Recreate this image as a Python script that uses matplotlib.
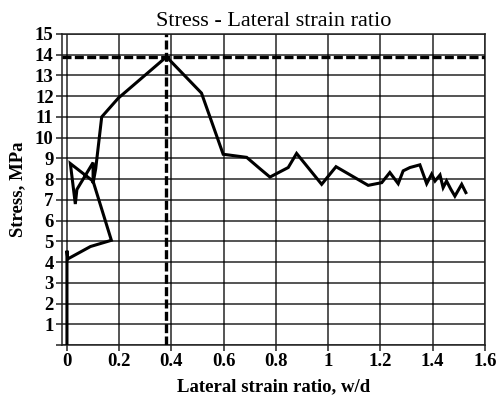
import matplotlib
matplotlib.use("Agg")
import matplotlib.pyplot as plt

lateral_ratio = [0.0, 0.0, 0.003, 0.09, 0.17, 0.10, 0.013, 0.032, 0.038, 0.100, 0.100, 0.110,
                 0.133, 0.196, 0.381, 0.515, 0.598, 0.688, 0.739, 0.777, 0.847, 0.879, 0.975,
                 1.03, 1.153, 1.205, 1.236, 1.268, 1.287, 1.313, 1.351, 1.377, 1.396, 1.409,
                 1.428, 1.44, 1.453, 1.47, 1.485, 1.511, 1.527]
stress = [0.0, 4.55, 4.15, 4.75, 5.05, 7.9, 8.75, 6.8, 7.5, 8.8, 7.8, 8.5,
          11.0, 11.9, 13.9, 12.15, 9.2, 9.05, 8.5, 8.1, 8.56, 9.24, 7.75,
          8.6, 7.7, 7.83, 8.32, 7.78, 8.4, 8.56, 8.69, 7.78, 8.24, 7.91,
          8.2, 7.59, 7.91, 7.5, 7.18, 7.75, 7.35]
peak_ratio = 0.381
peak_stress = 13.9

x_ticks = [0, 0.2, 0.4, 0.6, 0.8, 1.0, 1.2, 1.4, 1.6]
x_labels = ["0", "0.2", "0.4", "0.6", "0.8", "1", "1.2", "1.4", "1.6"]
y_ticks = list(range(0, 16))
y_labels = [""] + [str(v) for v in range(1, 16)]

plt.rcParams['font.family'] = ['Liberation Serif', 'DejaVu Serif']

fig = plt.figure(figsize=(5.02, 4.0), dpi=100)
ax = fig.add_axes([0.1235, 0.1375, 0.8425, 0.7775])

ax.set_xlim(-0.019, 1.6)
ax.set_ylim(0, 15)
ax.set_xticks(x_ticks)
ax.set_xticklabels(x_labels, fontsize=13.5, fontweight='bold')
ax.set_yticks(y_ticks)
ax.set_yticklabels(y_labels, fontsize=13.5, fontweight='bold')
ax.tick_params(direction='out', length=4, width=1.1, color='#222222', pad=2)

ax.grid(True, color='black', alpha=0.72, linewidth=1.3, linestyle='-')
ax.set_axisbelow(True)

for s in ax.spines.values():
    s.set_color('#222222')
    s.set_linewidth(1.1)

ax.axhline(peak_stress, color='black', linestyle=(0, (2.7, 1.0)), linewidth=2.4, zorder=3)
ax.axvline(peak_ratio, color='black', linestyle=(0, (2.7, 1.0)), linewidth=2.4, zorder=3)
ax.plot(lateral_ratio, stress, color='black', linewidth=2.2, solid_joinstyle='miter', zorder=4)

ax.set_title("Stress - Lateral strain ratio", fontsize=16, pad=6)
ax.set_xlabel("Lateral strain ratio, w/d", fontsize=13.5, fontweight='bold', labelpad=6)
ax.set_ylabel("Stress, MPa", fontsize=13.5, fontweight='bold', labelpad=6)

fig.savefig("out.png", dpi=100)
